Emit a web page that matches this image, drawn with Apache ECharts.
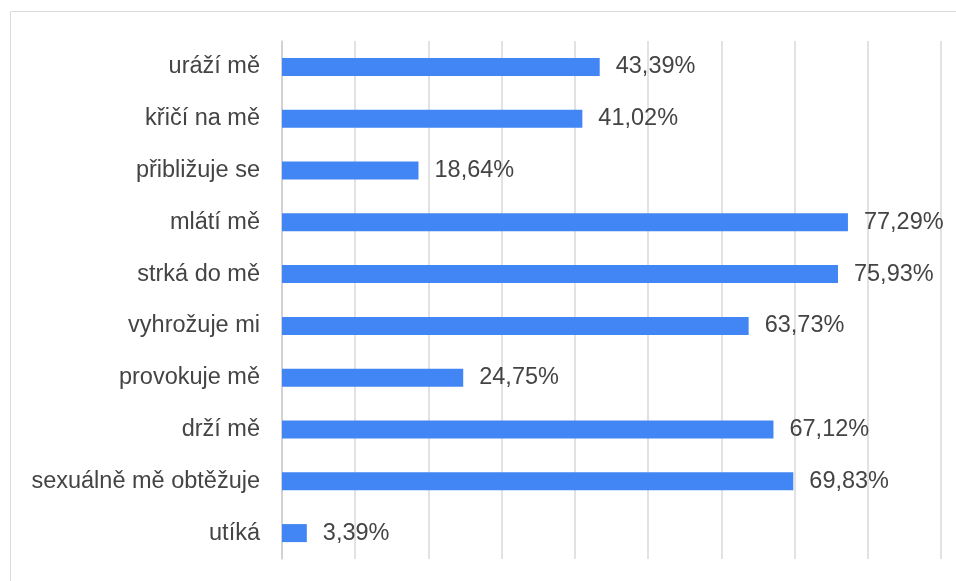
<!DOCTYPE html>
<html>
<head>
<meta charset="utf-8">
<script src="https://cdn.jsdelivr.net/npm/echarts@6/dist/echarts.min.js"></script>
<style>
  html, body { margin: 0; padding: 0; background: #fff; }
  #chart { width: 956px; height: 581px; }
</style>
</head>
<body>
<div id="chart"></div>
<script>
var categories = ['uráží mě', 'křičí na mě', 'přibližuje se', 'mlátí mě', 'strká do mě',
  'vyhrožuje mi', 'provokuje mě', 'drží mě', 'sexuálně mě obtěžuje', 'utíká'];
var values = [43.39, 41.02, 18.64, 77.29, 75.93, 63.73, 24.75, 67.12, 69.83, 3.39];

var chart = echarts.init(document.getElementById('chart'));

var option = {
  animation: false,
  textStyle: { fontFamily: 'Liberation Sans, Arial, sans-serif' },
  graphic: [{
    type: 'rect',
    shape: { x: 10.5, y: 11.5, width: 1200, height: 1200 },
    style: { fill: 'none', stroke: '#dadada', lineWidth: 1 },
    silent: true
  }],
  grid: { left: 282, right: 15, top: 41, bottom: 22 },
  xAxis: {
    type: 'value',
    min: 0,
    max: 90,
    interval: 10,
    axisLabel: { show: false },
    axisTick: { show: false },
    axisLine: { show: false },
    splitLine: { lineStyle: { color: '#d9d9d9', width: 1.5 } }
  },
  yAxis: {
    type: 'category',
    inverse: true,
    data: categories,
    axisLine: { lineStyle: { color: '#cccccc', width: 1.5 } },
    axisTick: { length: 7, lineStyle: { color: '#cccccc', width: 1.5 } },
    axisLabel: { color: '#444444', fontSize: 23.5, margin: 22, padding: [4, 0, 0, 0] }
  },
  series: [{
    type: 'bar',
    data: values,
    barWidth: 18,
    itemStyle: { color: '#4285f4' },
    label: {
      show: true,
      position: 'right',
      distance: 16,
      color: '#444444',
      fontSize: 23.5,
      padding: [4, 0, 0, 0],
      formatter: function (p) {
        return p.value.toFixed(2).replace('.', ',') + '%';
      }
    }
  }]
};

chart.setOption(option);
</script>
</body>
</html>
